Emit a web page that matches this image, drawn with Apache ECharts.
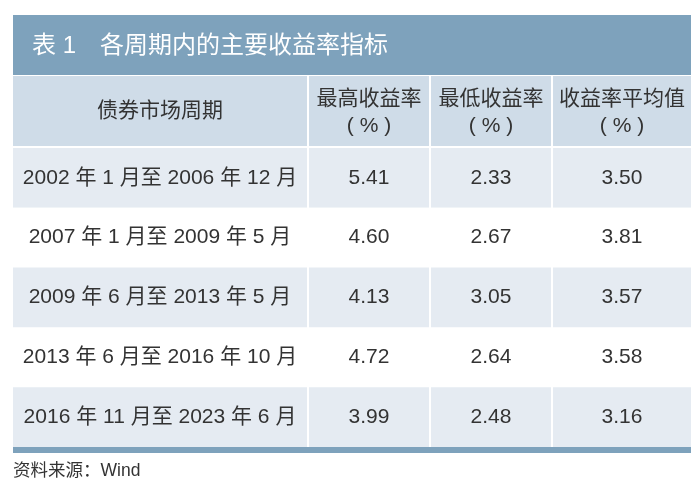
<!DOCTYPE html>
<html>
<head>
<meta charset="utf-8">
<script src="https://cdn.jsdelivr.net/npm/echarts@6/dist/echarts.min.js"></script>
<style>
  html, body { margin: 0; padding: 0; background: #fff; }
  #chart { width: 700px; height: 496px; }
</style>
</head>
<body>
<div id="chart"></div>
<script>
// table data
const tableTitle = '表 1　各周期内的主要收益率指标'
const headers = ['债券市场周期', '最高收益率', '最低收益率', '收益率平均值']
const unitLabel = '( % )'
const periods = [
  '2002 年 1 月至 2006 年 12 月',
  '2007 年 1 月至 2009 年 5 月',
  '2009 年 6 月至 2013 年 5 月',
  '2013 年 6 月至 2016 年 10 月',
  '2016 年 11 月至 2023 年 6 月',
]
const maxRates = [5.41, 4.60, 4.13, 4.72, 3.99]
const minRates = [2.33, 2.67, 3.05, 2.64, 2.48]
const avgRates = [3.50, 3.81, 3.57, 3.58, 3.16]
const sourceNote = '资料来源：Wind'

// layout
const colEdges = [13, 308, 430, 552, 691]
const FONT = '"Liberation Sans", "Noto Sans CJK SC", sans-serif'
const TEXT = '#333333'
const BAR = '#7ea2bc'
const HEAD_BG = '#cfdce8'
const ROW_BG = '#e5ebf2'

const cells = []
periods.forEach((p, i) => {
  cells.push({ value: [0, i], text: p })
  cells.push({ value: [1, i], text: maxRates[i].toFixed(2) })
  cells.push({ value: [2, i], text: minRates[i].toFixed(2) })
  cells.push({ value: [3, i], text: avgRates[i].toFixed(2) })
})

const headerGraphics = headers.map((h, j) => {
  const x0 = colEdges[j] + (j > 0 ? 1 : 0)
  const x1 = colEdges[j + 1] - (j < 3 ? 1 : 0)
  const cx = (x0 + x1) / 2
  const children = [
    { type: 'rect', shape: { x: x0, y: 76, width: x1 - x0, height: 70 }, style: { fill: HEAD_BG } },
  ]
  if (j === 0) {
    children.push({ type: 'text', style: { x: cx, y: 111, text: h, fill: TEXT, font: '21px ' + FONT, align: 'center', verticalAlign: 'middle' } })
  } else {
    children.push({ type: 'text', style: { x: cx, y: 99, text: h, fill: TEXT, font: '21px ' + FONT, align: 'center', verticalAlign: 'middle' } })
    children.push({ type: 'text', style: { x: cx, y: 126, text: unitLabel, fill: TEXT, font: '21px ' + FONT, align: 'center', verticalAlign: 'middle' } })
  }
  return { type: 'group', children }
})

const chart = echarts.init(document.getElementById('chart'))
chart.setOption({
  backgroundColor: '#fff',
  animation: false,
  grid: { left: 13, right: 9, top: 148, bottom: 49 },
  xAxis: { type: 'value', min: colEdges[0], max: colEdges[4], show: false },
  yAxis: { type: 'category', data: periods, inverse: true, show: false },
  graphic: [
    { type: 'rect', shape: { x: 13, y: 15, width: 678, height: 60 }, style: { fill: BAR } },
    { type: 'text', style: { x: 32, y: 46, text: tableTitle, fill: '#fff', font: '24px ' + FONT, verticalAlign: 'middle' } },
    ...headerGraphics,
    { type: 'rect', shape: { x: 13, y: 447, width: 678, height: 6 }, style: { fill: BAR } },
    { type: 'text', style: { x: 13, y: 471, text: sourceNote, fill: TEXT, font: '17.5px ' + FONT, verticalAlign: 'middle' } },
  ],
  series: [{
    type: 'custom',
    data: cells,
    renderItem(params, api) {
      const col = api.value(0)
      const row = api.value(1)
      const left = api.coord([colEdges[col], row])
      const right = api.coord([colEdges[col + 1], row])
      const h = api.size([0, 1])[1]
      const x0 = left[0] + (col > 0 ? 1 : 0)
      const x1 = right[0] - (col < 3 ? 1 : 0)
      const cy = left[1]
      return {
        type: 'group',
        children: [
          {
            type: 'rect',
            shape: { x: x0, y: cy - h / 2, width: x1 - x0, height: h },
            style: { fill: row % 2 === 0 ? ROW_BG : '#fff' },
          },
          {
            type: 'text',
            style: {
              x: (x0 + x1) / 2, y: cy, text: cells[params.dataIndex].text,
              fill: TEXT, font: '21px ' + FONT, align: 'center', verticalAlign: 'middle',
            },
          },
        ],
      }
    },
  }],
})
</script>
</body>
</html>
